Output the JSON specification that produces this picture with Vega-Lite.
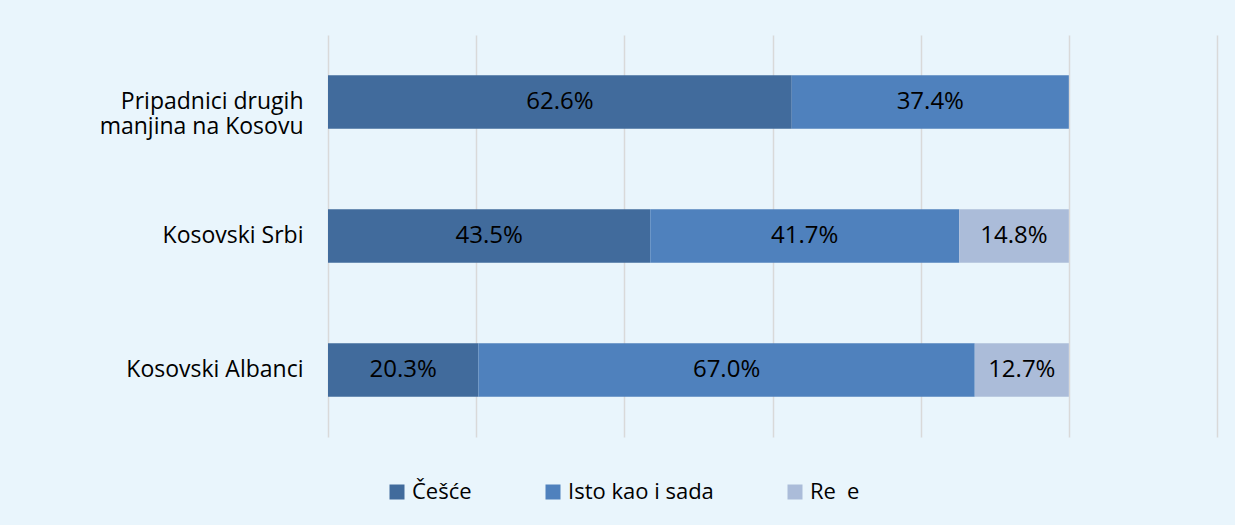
{
  "$schema": "https://vega.github.io/schema/vega-lite/v6.json",
  "width": 889,
  "height": 402,
  "autosize": {"type": "none"},
  "padding": {"left": 328, "top": 35, "right": 18, "bottom": 88},
  "background": "#e9f5fc",
  "config": {"view": {"stroke": null}, "font": "Open Sans"},
  "data": {
    "values": [
      {"group": "Pripadnici drugih|manjina na Kosovu", "answer": "Češće", "order": 1, "value": 0.626},
      {"group": "Pripadnici drugih|manjina na Kosovu", "answer": "Isto kao i sada", "order": 2, "value": 0.374},
      {"group": "Kosovski Srbi", "answer": "Češće", "order": 1, "value": 0.435},
      {"group": "Kosovski Srbi", "answer": "Isto kao i sada", "order": 2, "value": 0.417},
      {"group": "Kosovski Srbi", "answer": "Re\u2002e", "order": 3, "value": 0.148},
      {"group": "Kosovski Albanci", "answer": "Češće", "order": 1, "value": 0.203},
      {"group": "Kosovski Albanci", "answer": "Isto kao i sada", "order": 2, "value": 0.670},
      {"group": "Kosovski Albanci", "answer": "Re\u2002e", "order": 3, "value": 0.127}
    ]
  },
  "transform": [
    {"stack": "value", "groupby": ["group"], "sort": [{"field": "order"}], "as": ["v0", "v1"]},
    {"calculate": "(datum.v0 + datum.v1) / 2", "as": "mid"}
  ],
  "encoding": {
    "y": {
      "field": "group",
      "type": "nominal",
      "sort": ["Pripadnici drugih|manjina na Kosovu", "Kosovski Srbi", "Kosovski Albanci"],
      "scale": {"paddingInner": 0.6, "paddingOuter": 0.3},
      "axis": {
        "title": null,
        "ticks": false,
        "domain": false,
        "labelFontSize": 23,
        "labelColor": "#000000",
        "labelPadding": 25,
        "labelLimit": 400,
        "labelLineHeight": 25,
        "labelExpr": "split(datum.label, '|')"
      }
    }
  },
  "layer": [
    {
      "mark": {"type": "bar"},
      "encoding": {
        "x": {
          "field": "v0",
          "type": "quantitative",
          "scale": {"domain": [0, 1.2], "nice": false},
          "axis": {
            "title": null,
            "labels": false,
            "ticks": false,
            "domain": false,
            "grid": true,
            "gridColor": "#d9d9d9",
            "gridWidth": 1.5,
            "values": [0, 0.2, 0.4, 0.6, 0.8, 1.0, 1.2]
          }
        },
        "x2": {"field": "v1"},
        "color": {
          "field": "answer",
          "type": "nominal",
          "scale": {
            "domain": ["Češće", "Isto kao i sada", "Re\u2002e"],
            "range": ["#416b9c", "#4f81bd", "#abbcd9"]
          },
          "legend": {
            "title": null,
            "orient": "none",
            "legendX": 58,
            "legendY": 446,
            "direction": "horizontal",
            "symbolType": "square",
            "symbolSize": 225,
            "symbolStrokeWidth": 0,
            "labelFontSize": 22,
            "labelColor": "#000000",
            "labelOffset": 4,
            "columnPadding": 70
          }
        }
      }
    },
    {
      "mark": {"type": "text", "fontSize": 24, "color": "#000000"},
      "encoding": {
        "x": {"field": "mid", "type": "quantitative"},
        "text": {"field": "value", "format": ".1%"}
      }
    }
  ]
}
